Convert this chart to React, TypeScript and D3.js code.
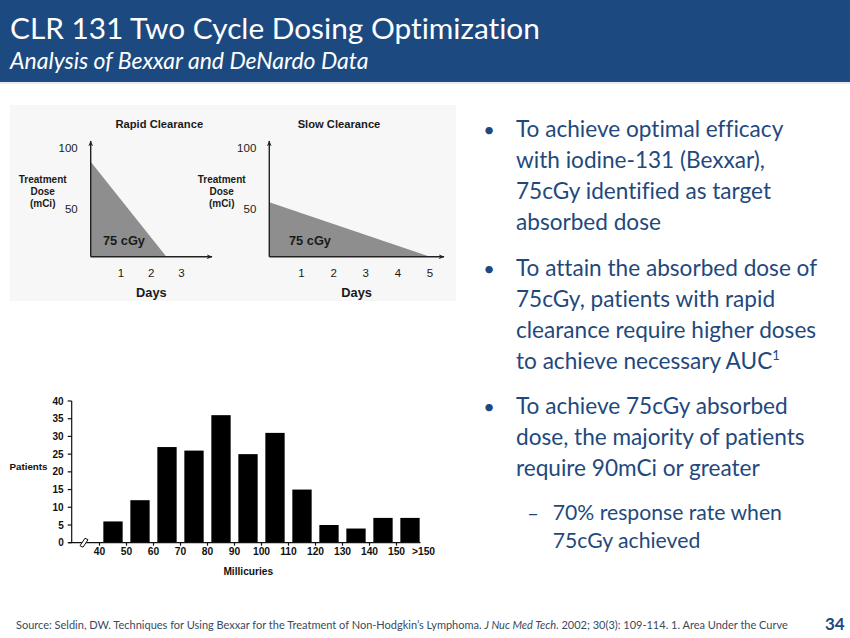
import * as d3 from 'd3';

// clearance schematics (days vs treatment dose in mCi)
const RAPID = [
  { day: 0, dose: 89 },
  { day: 2.5, dose: 0 },
];
const SLOW = [
  { day: 0, dose: 51 },
  { day: 5, dose: 0 },
];
const RAPID_DAYS = [1, 2, 3];
const SLOW_DAYS = [1, 2, 3, 4, 5];
const DOSE_TICKS = [100, 50];

// histogram of patients by dose (mCi)
const BINS = ['40', '50', '60', '70', '80', '90', '100', '110', '120', '130', '140', '150'];
const EDGE_LABELS = ['40', '50', '60', '70', '80', '90', '100', '110', '120', '130', '140', '150', '>150'];
const PATIENTS = [6, 12, 27, 26, 36, 25, 31, 15, 5, 4, 7, 7];
const PATIENT_TICKS = [0, 5, 10, 15, 20, 25, 30, 35, 40];

const BULLETS = [
  ['To achieve optimal efficacy', 'with iodine-131 (Bexxar),', '75cGy identified as target', 'absorbed dose'],
  ['To attain the absorbed dose of', '75cGy, patients with rapid', 'clearance require higher doses', 'to achieve necessary AUC'],
  ['To achieve 75cGy absorbed', 'dose, the majority of patients', 'require 90mCi or greater'],
];
const SUB_BULLET = ['70% response rate when', '75cGy achieved'];

const BLUE = '#1c4a80';
const TEXT_BLUE = '#1f497d';
const SANS = 'Lato, Calibri, sans-serif';
const ARIAL = '"Liberation Sans", Arial, sans-serif';
const NO_LIGA = { fontVariantLigatures: 'none', fontFeatureSettings: '"liga" 0, "clig" 0' } as any;

function Clearance({ data, days, x0, x1, xEnd, title, titleX, labelX, cgyX }: any) {
  const y = d3.scaleLinear().domain([0, 100]).range([256.7, 150]);
  const x = d3.scaleLinear().domain([0, days[days.length - 1]]).range([x0, x1]);
  const area = d3.area<any>().x(d => x(d.day)).y0(y(0)).y1(d => y(d.dose));
  return (
    <g fontFamily={ARIAL} fill="#1a1a1a">
      <path d={area(data) ?? ''} fill="#8e8e8e" />
      <line x1={x(0)} x2={x(0)} y1={y(0)} y2={141} stroke="#222" strokeWidth={1.4} markerEnd="url(#arr)" />
      <line x1={x(0)} x2={xEnd} y1={y(0)} y2={y(0)} stroke="#222" strokeWidth={1.4} markerEnd="url(#arr)" />
      <text x={titleX} y={128} textAnchor="middle" fontSize={11.2} fontWeight={700}>{title}</text>
      {DOSE_TICKS.map(t => (
        <text key={t} x={x(0) - 13} y={y(t) + (t === 50 ? 10 : 2)} textAnchor="end" fontSize={11.5}>{t}</text>
      ))}
      {['Treatment', 'Dose', '(mCi)'].map((s, i) => (
        <text key={s} x={labelX} y={183 + i * 12} textAnchor="middle" fontSize={10} fontWeight={700}>{s}</text>
      ))}
      <text x={cgyX} y={245} fontSize={12.8} fontWeight={700}>75 cGy</text>
      {days.map((d: number) => (
        <text key={d} x={x(d)} y={277} textAnchor="middle" fontSize={11.5}>{d}</text>
      ))}
      <text x={(x(0) + xEnd) / 2} y={297} textAnchor="middle" fontSize={12.8} fontWeight={700}>Days</text>
    </g>
  );
}

function Histogram() {
  const x = d3.scaleBand().domain(BINS).range([99.5, 423.5]).paddingInner(0.285).paddingOuter(0.1425);
  const y = d3.scaleLinear().domain([0, 40]).range([542.7, 401]);
  const gap = x.step() * x.paddingInner();
  const edge = (i: number) =>
    i < BINS.length ? (x(BINS[i]) ?? 0) - gap / 2 : (x(BINS[BINS.length - 1]) ?? 0) + x.bandwidth() + gap / 2;
  const axisX = 71.7;
  const bx = 84;
  const by = y(0);
  return (
    <g fontFamily={ARIAL} fill="#111">
      {BINS.map((b, i) => (
        <rect key={b} x={x(b)} y={y(PATIENTS[i])} width={x.bandwidth()} height={y(0) - y(PATIENTS[i])} fill="#000" />
      ))}
      <line x1={axisX} x2={axisX} y1={y(0)} y2={y(40)} stroke="#111" strokeWidth={1.2} />
      <line x1={axisX - 3} x2={edge(12) - 3} y1={y(0)} y2={y(0)} stroke="#111" strokeWidth={1.2} />
      {PATIENT_TICKS.map(t => (
        <g key={t}>
          <line x1={axisX - 4} x2={axisX} y1={y(t)} y2={y(t)} stroke="#111" strokeWidth={1.2} />
          <text x={axisX - 8} y={y(t) + 3.6} textAnchor="end" fontSize={10} fontWeight={700}>{t}</text>
        </g>
      ))}
      {EDGE_LABELS.map((l, i) => (
        <g key={l}>
          {i < BINS.length && <line x1={edge(i)} x2={edge(i)} y1={y(0)} y2={y(0) + 3} stroke="#111" strokeWidth={1.2} />}
          <text x={edge(i)} y={y(0) + 12} textAnchor="middle" fontSize={10.3} fontWeight={700}>{l}</text>
        </g>
      ))}
      <polygon
        points={`${bx - 4},${by + 3} ${bx - 1},${by + 4.5} ${bx + 4},${by - 3} ${bx + 1},${by - 4.5}`}
        fill="#fff"
        stroke="#111"
        strokeWidth={1}
      />
      <text x={28.5} y={469.5} textAnchor="middle" fontSize={9.8} fontWeight={700}>Patients</text>
      <text x={248.3} y={574.5} textAnchor="middle" fontSize={10.2} fontWeight={700}>Millicuries</text>
    </g>
  );
}

export default function App() {
  const bulletStarts = [137.3, 275.7, 414];
  return (
    <svg
      width={850}
      height={638}
      style={{ position: 'absolute', left: 0, top: 0, display: 'block', background: '#fff' }}
    >
      <defs>
        <marker id="arr" viewBox="0 0 10 10" refX={9} refY={5} markerWidth={6} markerHeight={6} orient="auto" markerUnits="userSpaceOnUse">
          <path d="M0,1 L10,5 L0,9 L3,5 Z" fill="#222" />
        </marker>
      </defs>
      <rect x={0} y={0} width={850} height={638} fill="#fff" />
      <rect x={0} y={0} width={850} height={82} fill={BLUE} />
      <line x1={0} x2={850} y1={83} y2={83} stroke="#cfd6de" strokeWidth={1} />
      <g style={NO_LIGA}>
        <text x={10} y={39} fill="#fff" fontFamily={SANS} fontSize={29.8}>CLR 131 Two Cycle Dosing Optimization</text>
        <text x={10} y={69} fill="#fff" fontFamily={SANS} fontSize={23} fontStyle="italic">Analysis of Bexxar and DeNardo Data</text>
      </g>

      <rect x={10} y={105} width={446} height={196} fill="#f7f7f7" />
      <Clearance data={RAPID} days={RAPID_DAYS} x0={90.7} x1={181.5} xEnd={212} title="Rapid Clearance" titleX={159.3} labelX={42.7} cgyX={103} />
      <Clearance data={SLOW} days={SLOW_DAYS} x0={269.3} x1={430} xEnd={444} title="Slow Clearance" titleX={339} labelX={221.7} cgyX={289} />

      <Histogram />

      <g fontFamily={SANS} fill={TEXT_BLUE} fontSize={22.6} style={NO_LIGA}>
        {BULLETS.map((lines, b) => (
          <g key={b}>
            <text x={489} y={bulletStarts[b]} textAnchor="middle" fontSize={20}>•</text>
            {lines.map((s, i) => (
              <text key={i} x={516} y={bulletStarts[b] + i * 31}>
                {s}
                {b === 1 && i === lines.length - 1 && (
                  <tspan fontSize={13} dy={-9}>1</tspan>
                )}
              </text>
            ))}
          </g>
        ))}
        <text x={533} y={520} textAnchor="middle" fontSize={20}>–</text>
        {SUB_BULLET.map((s, i) => (
          <text key={i} x={552.7} y={520 + i * 28.3} fontSize={21.2}>{s}</text>
        ))}
      </g>

      <text x={16} y={629} fill="#3b4a5e" fontFamily={SANS} fontSize={11} style={NO_LIGA}>
        Source: Seldin, DW. Techniques for Using Bexxar for the Treatment of Non-Hodgkin’s Lymphoma.{' '}
        <tspan fontStyle="italic">J Nuc Med Tech</tspan>. 2002; 30(3): 109-114.  1. Area Under the Curve
      </text>
      <text x={825} y={630} fill={TEXT_BLUE} fontFamily={SANS} fontSize={17} fontWeight={700}>34</text>
    </svg>
  );
}
